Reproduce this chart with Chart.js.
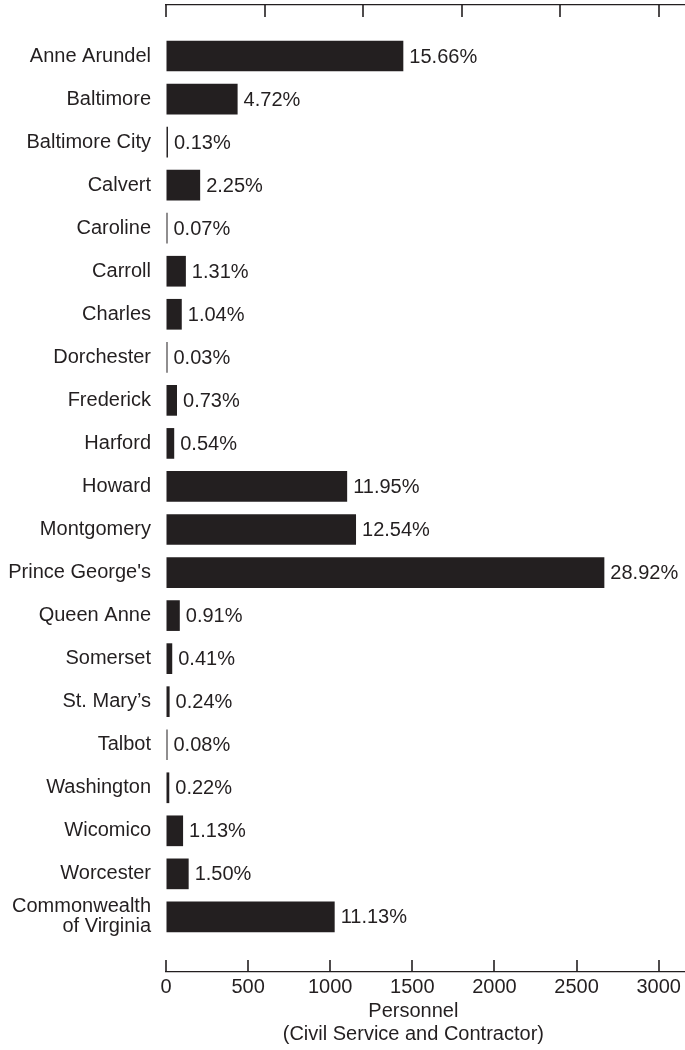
<!DOCTYPE html>
<html>
<head>
<meta charset="utf-8">
<script src="https://cdn.jsdelivr.net/npm/chart.js@4/dist/chart.umd.min.js"></script>
<style>
  html, body { margin: 0; padding: 0; background: #fff; }
  #wrap { width: 685px; height: 1050px; overflow: hidden; }
</style>
</head>
<body>
<div id="wrap"><canvas id="chart" width="685" height="1050"></canvas></div>
<script>
// Personnel by county (civil service and contractor)
const categories = [
    "Anne Arundel", "Baltimore", "Baltimore City", "Calvert", "Caroline",
    "Carroll", "Charles", "Dorchester", "Frederick", "Harford", "Howard",
    "Montgomery", "Prince George's", "Queen Anne", "Somerset", "St. Mary\u2019s",
    "Talbot", "Washington", "Wicomico", "Worcester",
    ["Commonwealth", "of Virginia"]
];
const personnel = [
    1445, 436, 12, 208, 6, 121, 96, 3, 67, 50, 1103,
    1157, 2669, 84, 38, 22, 7, 20, 104, 138, 1027
];
const shares = [
    "15.66%", "4.72%", "0.13%", "2.25%", "0.07%", "1.31%", "1.04%", "0.03%",
    "0.73%", "0.54%", "11.95%", "12.54%", "28.92%", "0.91%", "0.41%", "0.24%",
    "0.08%", "0.22%", "1.13%", "1.50%", "11.13%"
];
const bottomTicks = [0, 500, 1000, 1500, 2000, 2500, 3000];
const topTicks = [0, 600, 1200, 1800, 2400, 3000];
const axisTitle = ["Personnel", "(Civil Service and Contractor)"];

const INK = "#231f20";
const FONT = "'Liberation Sans', Arial, Helvetica, sans-serif";

Chart.defaults.font.family = FONT;
Chart.defaults.font.size = 20;
Chart.defaults.color = INK;

// short tick marks pointing into the plot
const inwardTicks = {
    id: "inwardTicks",
    afterDraw(chart) {
        const ctx = chart.ctx;
        const area = chart.chartArea;
        ctx.save();
        ctx.strokeStyle = INK;
        ctx.lineWidth = 1.6;
        chart.scales.x.ticks.forEach(t => {
            const px = Math.round(chart.scales.x.getPixelForValue(t.value));
            ctx.beginPath();
            ctx.moveTo(px, area.bottom);
            ctx.lineTo(px, area.bottom - 12);
            ctx.stroke();
        });
        chart.scales.x2.ticks.forEach(t => {
            const px = Math.round(chart.scales.x2.getPixelForValue(t.value));
            ctx.beginPath();
            ctx.moveTo(px, area.top);
            ctx.lineTo(px, area.top + 12);
            ctx.stroke();
        });
        ctx.restore();
    }
};

// share labels at the end of each bar + axis title
const barLabels = {
    id: "barLabels",
    afterDatasetsDraw(chart) {
        const ctx = chart.ctx;
        const meta = chart.getDatasetMeta(0);
        ctx.save();
        ctx.font = "20px " + FONT;
        ctx.fillStyle = INK;
        ctx.textAlign = "left";
        ctx.textBaseline = "middle";
        meta.data.forEach((bar, i) => {
            ctx.fillText(shares[i], bar.x + 6, bar.y + 1);
        });
        const cx = chart.scales.x.getPixelForValue(1500);
        ctx.textAlign = "center";
        ctx.fillText(axisTitle[0], cx + 1, 1011);
        ctx.fillText(axisTitle[1], cx + 1, 1034);
        ctx.restore();
    }
};

new Chart(document.getElementById("chart"), {
    type: "bar",
    data: {
        datasets: [{
            data: personnel.map((v, i) => ({ x: v, y: i })),
            backgroundColor: INK,
            borderWidth: 0,
            barPercentage: 0.713,
            categoryPercentage: 1,
            minBarLength: 1.5
        }]
    },
    options: {
        indexAxis: "y",
        responsive: false,
        animation: false,
        layout: { padding: { top: 5, right: 0, bottom: 0, left: 0 } },
        plugins: {
            legend: { display: false },
            tooltip: { enabled: false }
        },
        scales: {
            y: {
                type: "linear",
                reverse: true,
                offset: false,
                min: -1.185,
                max: 21.28,
                afterBuildTicks: (s) => { s.ticks = categories.map((c, i) => ({ value: i })); },
                afterFit: (s) => {
                    s.width = 166;
                    s.paddingTop = 0;
                    s.paddingBottom = 0;
                },
                ticks: {
                    autoSkip: false,
                    padding: 15,
                    font: { size: 20, lineHeight: 1.0 },
                    callback: (v) => categories[v]
                },
                grid: { display: false, drawTicks: false },
                border: { display: false }
            },
            x: {
                type: "linear",
                position: "bottom",
                min: 0,
                max: 3160,
                afterBuildTicks: (s) => { s.ticks = bottomTicks.map(v => ({ value: v })); },
                afterFit: (s) => {
                    s.height = 78;
                    s.paddingLeft = 0;
                    s.paddingRight = 0;
                },
                ticks: { padding: 3, font: { size: 20 }, callback: (v) => String(v) },
                grid: { drawOnChartArea: false, drawTicks: false, lineWidth: 1 },
                border: { display: true, color: INK, width: 1.3 }
            },
            x2: {
                type: "linear",
                position: "top",
                min: 0,
                max: 3160,
                afterBuildTicks: (s) => { s.ticks = topTicks.map(v => ({ value: v })); },
                afterFit: (s) => {
                    s.height = 0;
                    s.paddingLeft = 0;
                    s.paddingRight = 0;
                },
                ticks: { display: false },
                grid: { drawOnChartArea: false, drawTicks: false, lineWidth: 1 },
                border: { display: true, color: INK, width: 1.3 }
            }
        }
    },
    plugins: [inwardTicks, barLabels]
});
</script>
</body>
</html>
